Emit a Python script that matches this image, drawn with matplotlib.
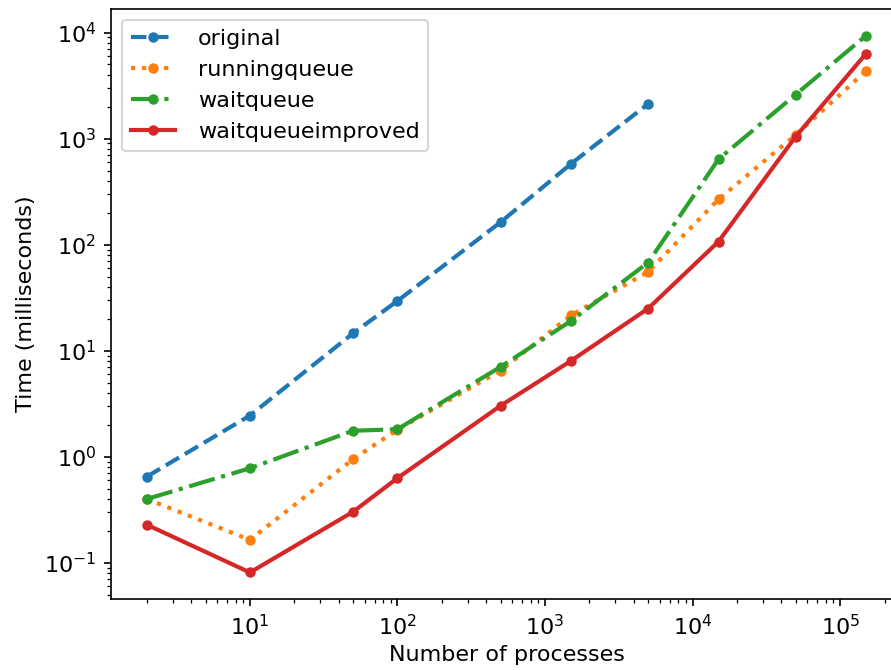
import matplotlib
matplotlib.use("Agg")
import matplotlib.pyplot as plt

plt.rcParams['font.size'] = 10.7

# number of processes used in each run
processes = [2, 10, 50, 100, 500, 1500, 5000, 15000, 50000, 150000]

# wall time in milliseconds per implementation
original = [0.65, 2.45, 14.6, 29.5, 163, 578, 2124]
runningqueue = [0.40, 0.165, 0.95, 1.80, 6.5, 21.6, 55.4, 268, 1083, 4345]
waitqueue = [0.40, 0.78, 1.76, 1.82, 7.05, 19.1, 67.8, 640, 2600, 9360]
waitqueueimproved = [0.229, 0.0812, 0.303, 0.63, 3.03, 8.03, 25.0, 107, 1045, 6325]

fig = plt.figure(figsize=(891 / 150, 670 / 150), dpi=150)
ax = fig.add_axes([0.1244, 0.1055, 0.888, 0.8815])

ax.plot(processes[:len(original)], original, '--', marker='o', markersize=4,
        lw=2, color='tab:blue', label='original')
ax.plot(processes, runningqueue, ':', marker='o', markersize=4,
        lw=2, color='tab:orange', label='runningqueue')
ax.plot(processes, waitqueue, '-.', marker='o', markersize=4,
        lw=2, color='tab:green', label='waitqueue')
ax.plot(processes, waitqueueimproved, '-', marker='o', markersize=4,
        lw=2, color='tab:red', label='waitqueueimproved')

ax.set_xscale('log')
ax.set_yscale('log')
ax.set_xlabel('Number of processes', labelpad=3)
ax.set_ylabel('Time (milliseconds)')
ax.legend(loc='upper left', handletextpad=1.0)

fig.savefig('out.png', dpi=150)
